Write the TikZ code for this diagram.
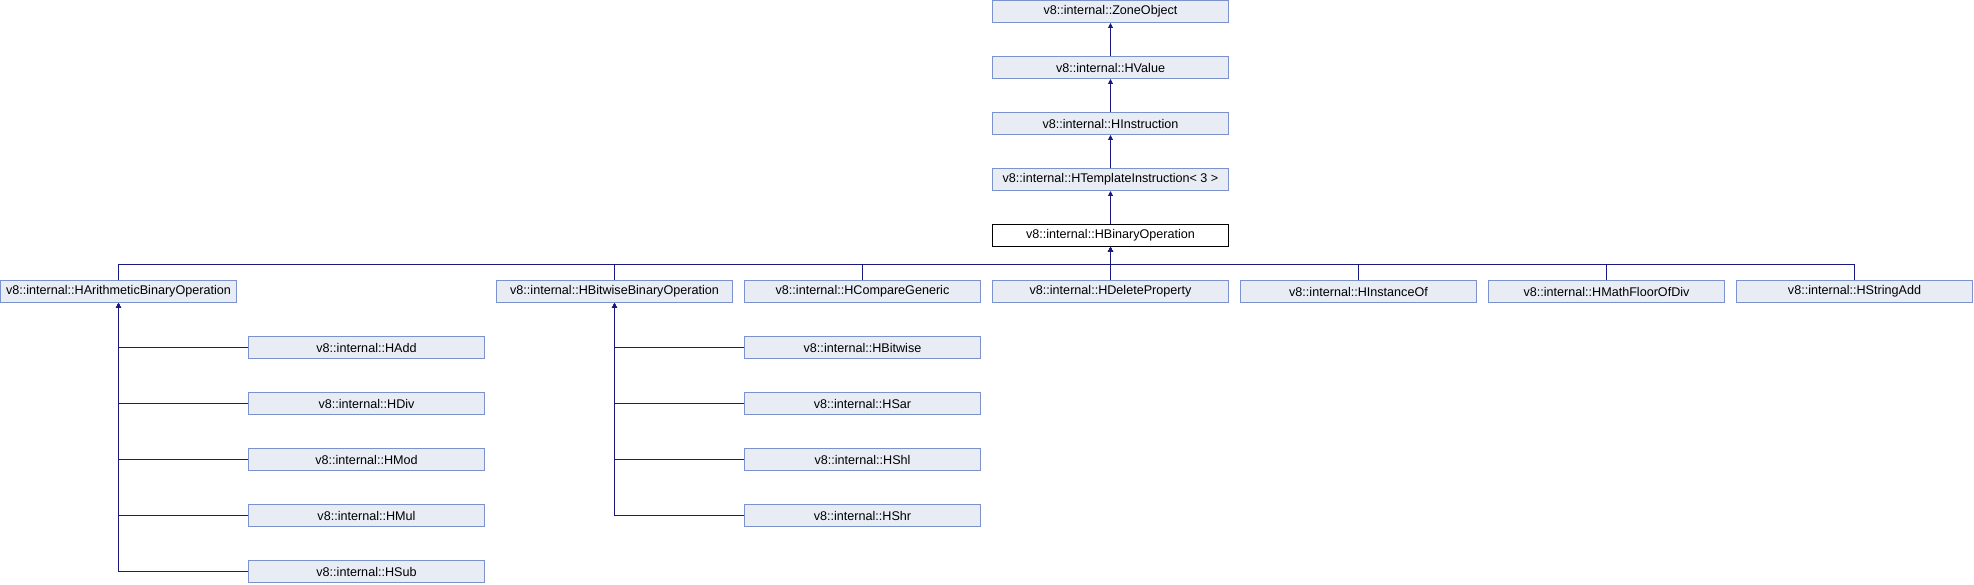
\documentclass[tikz,border=0pt]{standalone}
\usepackage{fontspec}
\setmainfont{Liberation Sans}
\usetikzlibrary{arrows.meta}
\definecolor{boxfill}{RGB}{232,236,244}
\definecolor{boxline}{RGB}{124,146,204}
\definecolor{edgeblue}{RGB}{25,25,128}
\begin{document}
\begin{tikzpicture}[x=0.5pt,y=-0.5pt,
  cls/.style={draw=boxline,fill=boxfill,line width=0.5pt,minimum width=118pt,
    minimum height=11pt,inner sep=0pt,font=\fontsize{6.3pt}{7pt}\selectfont},
  cur/.style={cls,draw=black,fill=white},
  inh/.style={draw=edgeblue,line width=0.5pt,-{Triangle[length=2.4pt,width=2.4pt]}}]
\useasboundingbox (0,0) rectangle (1974,584);
\node[cls] (zone) at (1110.5,11.5) {v8::internal::ZoneObject};
\node[cls] (hvalue) at (1110.5,67.5) {v8::internal::HValue};
\node[cls] (hinstr) at (1110.5,123.5) {v8::internal::HInstruction};
\node[cls] (htempl) at (1110.5,179.5) {v8::internal::HTemplateInstruction<\ 3 >};
\node[cur] (hbinop) at (1110.5,235.5) {v8::internal::HBinaryOperation};

\draw[inh] (hvalue) -- (zone);
\draw[inh] (hinstr) -- (hvalue);
\draw[inh] (htempl) -- (hinstr);
\draw[inh] (hbinop) -- (htempl);

\foreach \name/\col/\txt in {harith/0/HArithmeticBinaryOperation,hbitwiseop/2/HBitwiseBinaryOperation,
  hcompare/3/HCompareGeneric,hdelete/4/HDeleteProperty,hinstance/5/HInstanceOf,
  hmathfloor/6/HMathFloorOfDiv,hstringadd/7/HStringAdd}{
  \node[cls] (\name) at (248*\col+118.5,291.5) {v8::internal::\txt};
  \draw[inh] (\name.north) -- ++(0,-16) -| (hbinop.south);
}

\foreach \name/\row in {HAdd/0,HDiv/1,HMod/2,HMul/3,HSub/4}{
  \node[cls] (a\name) at (366.5,347.5+56*\row) {v8::internal::\name};
  \draw[inh] (a\name.west) -| (harith.south);
}

\foreach \name/\row in {HBitwise/0,HSar/1,HShl/2,HShr/3}{
  \node[cls] (b\name) at (862.5,347.5+56*\row) {v8::internal::\name};
  \draw[inh] (b\name.west) -| (hbitwiseop.south);
}
\end{tikzpicture}
\end{document}
